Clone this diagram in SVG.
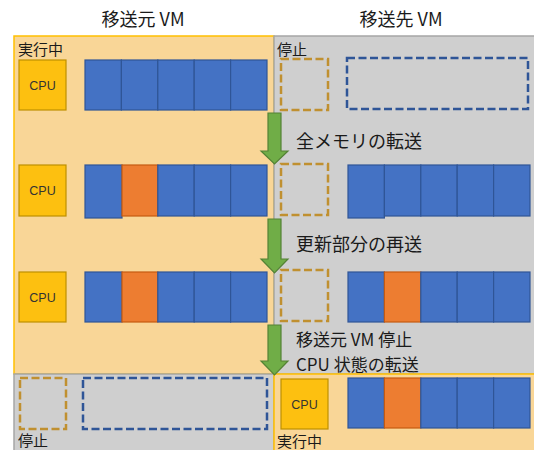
<svg xmlns="http://www.w3.org/2000/svg" width="534" height="450" viewBox="0 0 534 450">
<defs>
<style>
.jp{font-family:"Noto Sans CJK JP","Noto Sans",sans-serif;fill:#1a1a1a}
.title{font-size:18px}
.label{font-size:18px}
.label2{font-size:17px}
.state{font-size:15px}
.cpu{fill:#fdc010;stroke:#bf9000;stroke-width:1.2}
.cput{font-family:"Liberation Sans",Arial,sans-serif;font-size:12.5px;fill:#333;text-anchor:middle}
.mem{fill:#4472c4;stroke:#2f5597;stroke-width:1.2}
.dirty{fill:#ed7d31;stroke:#c55a11;stroke-width:1.2}
.dcpu{fill:none;stroke:#c09030;stroke-width:2.5;stroke-dasharray:8 3.5}
.dmem{fill:none;stroke:#2f5597;stroke-width:2.5;stroke-dasharray:8 3.5}
.run{fill:#f9d697;stroke:#ffc000;stroke-width:1.5}
.stop{fill:#cfcfcf;stroke:#a6a6a6;stroke-width:1.5}
.arrow{fill:#70ad47;stroke:#548235;stroke-width:1.2}
</style>
</defs>
<rect width="534" height="450" fill="#ffffff"/>

<g id="titles">
<text class="jp title" x="143" y="26" text-anchor="middle">移送元 VM</text>
<text class="jp title" x="401" y="26" text-anchor="middle">移送先 VM</text>
</g>

<g id="source-running-panel">
<rect class="run" x="14" y="36" width="260" height="338"/>
<text class="jp state" x="18" y="55">実行中</text>
</g>
<g id="dest-stopped-panel">
<rect class="stop" x="274" y="36" width="262" height="338"/>
<text class="jp state" x="277" y="55">停止</text>
</g>
<g id="source-stopped-panel">
<rect class="stop" x="14" y="374" width="260" height="78"/>
<text class="jp state" x="18" y="446">停止</text>
</g>
<g id="dest-running-panel">
<rect class="run" x="274" y="374" width="262" height="78"/>
<text class="jp state" x="277" y="447">実行中</text>
</g>

<g id="row1-source">
<rect class="cpu" x="19" y="60" width="47" height="50"/>
<text class="cput" x="42.5" y="89.5">CPU</text>
<rect class="mem" x="85" y="60" width="36.4" height="50"/>
<rect class="mem" x="121.4" y="60" width="36.4" height="50"/>
<rect class="mem" x="157.8" y="60" width="36.4" height="50"/>
<rect class="mem" x="194.2" y="60" width="36.4" height="50"/>
<rect class="mem" x="230.6" y="60" width="36.4" height="50"/>
</g>
<g id="row1-dest">
<rect class="dcpu" x="281" y="59" width="47" height="51"/>
<rect class="dmem" x="347" y="58" width="181" height="51"/>
</g>

<g id="row2-source">
<rect class="cpu" x="19" y="165" width="47" height="51"/>
<text class="cput" x="42.5" y="195">CPU</text>
<rect class="mem" x="85" y="165" width="37" height="53"/>
<rect class="dirty" x="122" y="165" width="35.8" height="51"/>
<rect class="mem" x="157.8" y="165" width="36.4" height="51"/>
<rect class="mem" x="194.2" y="165" width="36.4" height="51"/>
<rect class="mem" x="230.6" y="165" width="36.4" height="51"/>
</g>
<g id="row2-dest">
<rect class="dcpu" x="281" y="164" width="47" height="51"/>
<rect class="mem" x="348" y="165" width="36.4" height="53"/>
<rect class="mem" x="384.4" y="165" width="36.4" height="51"/>
<rect class="mem" x="420.8" y="165" width="36.4" height="51"/>
<rect class="mem" x="457.2" y="165" width="36.4" height="51"/>
<rect class="mem" x="493.6" y="165" width="36.4" height="51"/>
</g>

<g id="row3-source">
<rect class="cpu" x="19" y="272" width="47" height="50"/>
<text class="cput" x="42.5" y="301.5">CPU</text>
<rect class="mem" x="85" y="272" width="37" height="50"/>
<rect class="dirty" x="122" y="272" width="35.8" height="50"/>
<rect class="mem" x="157.8" y="272" width="36.4" height="50"/>
<rect class="mem" x="194.2" y="272" width="36.4" height="50"/>
<rect class="mem" x="230.6" y="272" width="36.4" height="50"/>
</g>
<g id="row3-dest">
<rect class="dcpu" x="281" y="270" width="47" height="51"/>
<rect class="mem" x="348" y="272" width="36.4" height="50"/>
<rect class="dirty" x="384.4" y="272" width="36.4" height="50"/>
<rect class="mem" x="420.8" y="272" width="36.4" height="50"/>
<rect class="mem" x="457.2" y="272" width="36.4" height="50"/>
<rect class="mem" x="493.6" y="272" width="36.4" height="50"/>
</g>

<g id="row4-source">
<rect class="dcpu" x="20" y="378" width="46" height="51"/>
<rect class="dmem" x="83" y="378" width="184" height="51"/>
</g>
<g id="row4-dest">
<rect class="cpu" x="281" y="379" width="47" height="50"/>
<text class="cput" x="304.5" y="408.5">CPU</text>
<rect class="mem" x="348" y="378" width="36.4" height="50"/>
<rect class="dirty" x="384.4" y="378" width="36.4" height="50"/>
<rect class="mem" x="420.8" y="378" width="36.4" height="50"/>
<rect class="mem" x="457.2" y="378" width="36.4" height="50"/>
<rect class="mem" x="493.6" y="378" width="36.4" height="50"/>
</g>

<g id="connectors">
<polygon class="arrow" points="268,113 281,113 281,151 288,151 274.5,164 261,151 268,151"/>
<polygon class="arrow" points="268,219 281,219 281,259 288,259 274.5,273 261,259 268,259"/>
<polygon class="arrow" points="268,325 281,325 281,361 288,361 274.5,375 261,361 268,361"/>
</g>

<g id="step-labels">
<text class="jp label" x="296" y="148">全メモリの転送</text>
<text class="jp label" x="296" y="251">更新部分の再送</text>
<text class="jp label2" x="296" y="346">移送元 VM 停止</text>
<text class="jp label2" x="296" y="371">CPU 状態の転送</text>
</g>
</svg>
